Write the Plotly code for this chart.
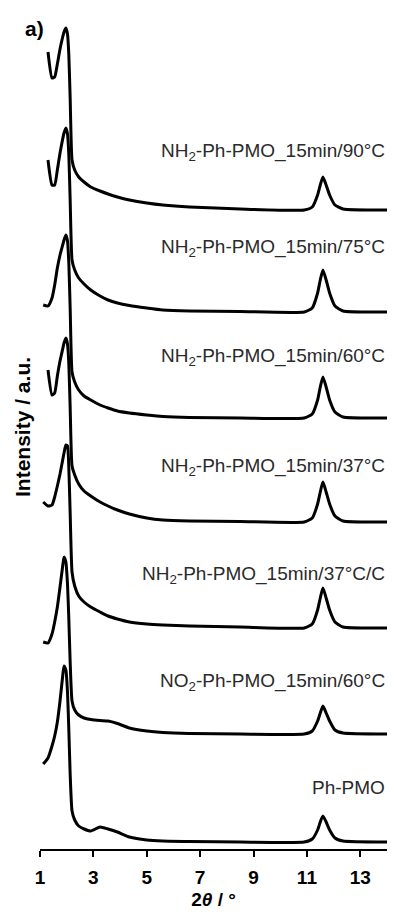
import plotly.graph_objects as go

# 2theta sampling positions (degrees)
two_theta = [1.12, 1.30, 1.45, 1.55, 1.65, 1.75, 1.85, 1.90, 1.97, 2.03, 2.08, 2.13,
             2.20, 2.30, 2.45, 2.65, 2.90, 3.25, 3.55, 3.90, 4.35, 5.00, 5.60, 6.60,
             8.50, 10.90, 11.20, 11.40, 11.50, 11.60, 11.72, 11.85, 12.05, 12.35, 14.00]

# intensities (a.u., before stacking)
i_90 = [None, 158, 132, 133, 146, 161, 173, 178, 182, 176, 155, 112, 50, 40, 33, 28, 23, 19,
        16, 13, 10, 7, 5, 3, 1, 0, 3, 15, 25, 33, 25, 15, 5, 1, 0]
i_75 = [None, 152, 127, 127, 142, 159, 173, 179, 184, 178, 157, 112, 52, 42, 34, 28, 22, 16,
        12, 9, 6.5, 4, 2, 1, 0.5, 0, 4, 19, 32, 42, 32, 19, 6, 1, 0]
i_60 = [113, 112, 120, 133, 150, 163, 173, 178, 183, 177, 155, 110, 46, 36, 28, 22, 18, 13,
        10, 7, 5, 3, 1.5, 0.5, 0, 0, 4, 18, 31, 41, 31, 18, 6, 1, 0]
i_37 = [None, 152, 127, 129, 146, 161, 173, 179, 184, 178, 158, 115, 56, 47, 38, 31, 26, 20,
        16, 12, 8, 4, 2, 1, 0.5, 0, 4, 18, 30, 40, 30, 18, 6, 1, 0]
i_37c = [126, 122, 123, 131, 142, 154, 168, 175, 183, 182, 160, 115, 56, 42, 32, 26, 21, 16,
         12, 9, 6, 4, 3, 2, 1, 0, 4, 18, 30, 40, 30, 18, 6, 1, 0]
i_no2 = [92, 91, 100, 112, 127, 147, 168, 177, 172, 150, 115, 72, 33, 24, 19, 16, 14.5, 13.5,
         13, 10.5, 6, 3, 1.5, 0.5, 0, 0, 3, 13, 21, 28, 21, 13, 4, 1, 0]
i_ph = [78, 84, 96, 106, 120, 141, 166, 176, 172, 150, 112, 68, 31, 22, 16, 13, 11, 15,
        13, 10, 5, 2, 1, 0.5, 0, 0, 3, 12, 20, 26, 20, 12, 4, 1, 0]

sample_names = ["NH<sub>2</sub>-Ph-PMO_15min/90°C",
                "NH<sub>2</sub>-Ph-PMO_15min/75°C",
                "NH<sub>2</sub>-Ph-PMO_15min/60°C",
                "NH<sub>2</sub>-Ph-PMO_15min/37°C",
                "NH<sub>2</sub>-Ph-PMO_15min/37°C/C",
                "NO<sub>2</sub>-Ph-PMO_15min/60°C",
                "Ph-PMO"]
stack_offsets = [639, 537, 431, 327, 221, 115, 7]
x_ticks = [1, 3, 5, 7, 9, 11, 13]

series = [i_90, i_75, i_60, i_37, i_37c, i_no2, i_ph]

# layout-only: label height above each baseline
label_dy = [58, 64, 61, 55, 53, 52, 55]

fig = go.Figure()
for vals, off in zip(series, stack_offsets):
    fig.add_trace(go.Scatter(
        x=two_theta,
        y=[None if v is None else v + off for v in vals],
        mode="lines",
        line=dict(color="black", width=3, shape="spline", smoothing=0.5),
        connectgaps=False,
        showlegend=False,
        hoverinfo="skip",
    ))

FONT = "Arial, Liberation Sans, sans-serif"
for name, off, dy in zip(sample_names, stack_offsets, label_dy):
    fig.add_annotation(x=14, y=off + dy, xref="x", yref="y", text=name,
                       showarrow=False, xanchor="right", yanchor="middle",
                       font=dict(family=FONT, size=19, color="#2a2a2a"))

fig.add_annotation(x=-0.017, y=0.9785, xref="paper", yref="paper", text="<b>a)</b>",
                   showarrow=False, xanchor="center", yanchor="middle",
                   font=dict(family=FONT, size=21, color="black"))
fig.add_annotation(x=-0.049, y=0.503, xref="paper", yref="paper",
                   text="<b>Intensity / a.u.</b>", textangle=-90,
                   showarrow=False, xanchor="center", yanchor="middle",
                   font=dict(family=FONT, size=21, color="black"))

fig.update_layout(
    width=394, height=918,
    margin=dict(l=40, r=7, t=10, b=69),
    paper_bgcolor="white", plot_bgcolor="white",
    font=dict(family=FONT, color="black"),
    xaxis=dict(range=[1, 14], tickvals=x_ticks, ticktext=[str(t) for t in x_ticks],
               showline=True, linecolor="black", linewidth=1.5,
               ticks="outside", ticklen=6, tickwidth=1.5, tickcolor="black",
               showgrid=False, zeroline=False, ticklabelstandoff=4,
               tickfont=dict(family=FONT, size=19, color="black", weight="bold"),
               title=dict(text="<b>2<i>θ</i> / °</b>", standoff=6,
                          font=dict(family=FONT, size=19, color="black"))),
    yaxis=dict(range=[0, 839], visible=False),
)

fig.write_html("out.html")
